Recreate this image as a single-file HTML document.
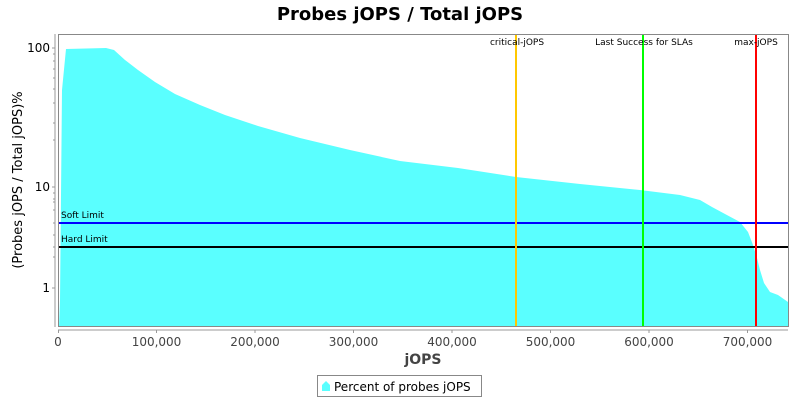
<!DOCTYPE html>
<html><head><meta charset="utf-8"><style>body{margin:0;background:#fff}svg text{font-family:"DejaVu Sans","Liberation Sans",sans-serif}</style></head><body>
<svg width="800" height="400" viewBox="0 0 800 400" xmlns="http://www.w3.org/2000/svg">
<rect width="800" height="400" fill="#fff"/>
<text x="400" y="20" text-anchor="middle" font-size="18" font-weight="bold">Probes jOPS / Total jOPS</text>
<path d="M59,327 L60,300 L62,90 L66,49 L106,48 L114,50 L125,60 L138,70 L155,82 L175,94 L200,105 L225,115 L258,126 L300,138 L350,150 L400,161 L458,168 L516,177 L580,184 L640,190 L680,195 L700,200 L712,207 L725,214 L740,222 L748,232 L753,245 L757,258 L760,270 L764,283 L770,292 L778,295 L788,302 L788,327 Z" fill="#5affff"/>
<line x1="59" y1="223" x2="788" y2="223" stroke="#0000ff" stroke-width="2"/>
<line x1="59" y1="247" x2="788" y2="247" stroke="#000" stroke-width="2"/>
<line x1="516" y1="34" x2="516" y2="327" stroke="#ffc800" stroke-width="2"/>
<line x1="643" y1="34" x2="643" y2="327" stroke="#00ff00" stroke-width="2"/>
<line x1="756" y1="34" x2="756" y2="327" stroke="#ff0000" stroke-width="2"/>
<g font-size="9">
<text x="61" y="218">Soft Limit</text>
<text x="61" y="242">Hard Limit</text>
<text x="517" y="45" text-anchor="middle">critical-jOPS</text>
<text x="644" y="45" text-anchor="middle">Last Success for SLAs</text>
<text x="756" y="45" text-anchor="middle">max-jOPS</text>
</g>
<rect x="58.5" y="34.5" width="730" height="292" fill="none" stroke="#888"/>
<g stroke="#999">
<line x1="55" y1="34" x2="55" y2="327"/>
<line x1="58" y1="330" x2="788" y2="330"/>
<line x1="52" y1="48" x2="55" y2="48"/><line x1="52" y1="187" x2="55" y2="187"/><line x1="52" y1="288" x2="55" y2="288"/>
<line x1="53" y1="257" x2="55" y2="257"/><line x1="53" y1="247" x2="55" y2="247"/><line x1="53" y1="235" x2="55" y2="235"/><line x1="53" y1="223" x2="55" y2="223"/><line x1="53" y1="210" x2="55" y2="210"/><line x1="53" y1="202" x2="55" y2="202"/><line x1="53" y1="199" x2="55" y2="199"/><line x1="53" y1="193" x2="55" y2="193"/>
<line x1="53" y1="140" x2="55" y2="140"/><line x1="53" y1="123" x2="55" y2="123"/><line x1="53" y1="103" x2="55" y2="103"/><line x1="53" y1="89" x2="55" y2="89"/><line x1="53" y1="78" x2="55" y2="78"/><line x1="53" y1="69" x2="55" y2="69"/><line x1="53" y1="61" x2="55" y2="61"/><line x1="53" y1="54" x2="55" y2="54"/>
<line x1="58.5" y1="330" x2="58.5" y2="333"/><line x1="156.5" y1="330" x2="156.5" y2="333"/><line x1="255" y1="330" x2="255" y2="333"/><line x1="353.5" y1="330" x2="353.5" y2="333"/><line x1="452" y1="330" x2="452" y2="333"/><line x1="550.5" y1="330" x2="550.5" y2="333"/><line x1="649" y1="330" x2="649" y2="333"/><line x1="747.5" y1="330" x2="747.5" y2="333"/>
</g>
<g font-size="12" fill="#000" text-anchor="end">
<text x="50" y="52">100</text><text x="50" y="191">10</text><text x="50" y="292">1</text>
</g>
<g font-size="12" fill="#444" text-anchor="middle">
<text x="58" y="346">0</text><text x="156.5" y="346">100,000</text><text x="255" y="346">200,000</text><text x="353.5" y="346">300,000</text><text x="452" y="346">400,000</text><text x="550.5" y="346">500,000</text><text x="649" y="346">600,000</text><text x="747.5" y="346">700,000</text>
</g>
<text x="423" y="364" text-anchor="middle" font-size="14" font-weight="bold" fill="#444">jOPS</text>
<text transform="translate(22,180) rotate(-90)" text-anchor="middle" font-size="13">(Probes jOPS / Total jOPS)%</text>
<rect x="317.5" y="375.5" width="164" height="21" fill="#fff" stroke="#888"/>
<path d="M322,391 L322,385 L326,381 L330,385 L330,391 Z" fill="#5affff"/>
<text x="334" y="391" font-size="12">Percent of probes jOPS</text>
</svg>
</body></html>
